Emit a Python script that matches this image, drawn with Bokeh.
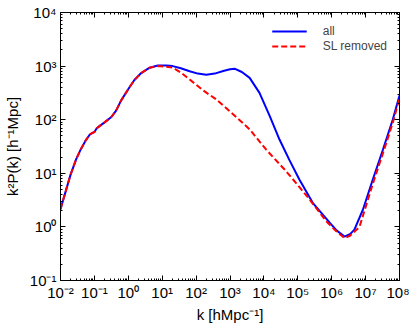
import numpy as np
from bokeh.plotting import figure
from bokeh.models import FixedTicker, LogAxis, Legend, LegendItem
from bokeh.embed import file_html
from bokeh.resources import INLINE

# ---- data (log10 k, log10 k^2 P(k)) ----
logk_all = [-2.00, -1.90, -1.83, -1.70, -1.54, -1.40, -1.25, -1.14, -1.07, -1.00,
            -0.93, -0.85, -0.70, -0.50, -0.36, -0.21, 0.03, 0.18, 0.38, 0.63,
            0.87, 1.12, 1.31, 1.55, 1.81, 2.05, 2.30, 2.55, 2.80,
            3.00, 3.15, 3.35, 3.58, 3.87, 4.17, 4.46, 4.75, 5.05, 5.44,
            5.94, 6.15, 6.38, 6.55, 6.67, 6.92, 7.21, 7.51, 7.80, 8.00]
logp_all = [0.33, 0.55, 0.70, 0.98, 1.26, 1.45, 1.62, 1.72, 1.75, 1.77,
            1.84, 1.88, 1.95, 2.05, 2.17, 2.36, 2.60, 2.74, 2.87, 2.97,
            3.01, 3.01, 3.00, 2.96, 2.905, 2.86, 2.84, 2.86, 2.91,
            2.94, 2.95, 2.89, 2.78, 2.50, 2.07, 1.63, 1.25, 0.88, 0.45,
            0.08, -0.07, -0.18, -0.13, -0.05, 0.32, 0.88, 1.44, 2.00, 2.45]

logk_sl = [-2.00, -1.90, -1.83, -1.70, -1.54, -1.40, -1.25, -1.14, -1.07, -1.00,
           -0.93, -0.85, -0.70, -0.50, -0.36, -0.21, 0.03, 0.18, 0.38, 0.63,
           0.87, 1.12, 1.31, 1.55, 1.81, 2.20, 2.59, 2.99, 3.58,
           4.07, 4.61, 5.00, 5.35, 5.84, 6.10, 6.38, 6.55, 6.82, 7.21,
           7.51, 7.80, 8.00]
logp_sl = [0.33, 0.55, 0.70, 0.98, 1.26, 1.45, 1.62, 1.72, 1.75, 1.77,
           1.84, 1.88, 1.95, 2.05, 2.17, 2.36, 2.60, 2.74, 2.87, 2.97,
           3.00, 2.99, 2.97, 2.88, 2.75, 2.55, 2.38, 2.16, 1.82,
           1.44, 1.07, 0.78, 0.51, 0.106, -0.06, -0.21, -0.16, 0.00, 0.80,
           1.37, 1.94, 2.40]

x_tick_exps = [-2, -1, 0, 1, 2, 3, 4, 5, 6, 7, 8]
y_tick_exps = [-1, 0, 1, 2, 3, 4]
sup = {"-": "⁻", "0": "⁰", "1": "¹", "2": "²", "3": "³", "4": "⁴",
       "5": "⁵", "6": "⁶", "7": "⁷", "8": "⁸", "9": "⁹"}

def lab(e):
    return "10" + "".join(sup[c] for c in str(e))

k_all = 10.0 ** np.array(logk_all)
p_all = 10.0 ** np.array(logp_all)
k_sl = 10.0 ** np.array(logk_sl)
p_sl = 10.0 ** np.array(logp_sl)

FONT = "Liberation Sans"

p = figure(x_axis_type="log", y_axis_type="log",
           x_range=(1e-2, 1e8), y_range=(1e-1, 1e4),
           frame_width=339, frame_height=268,
           min_border_left=57, min_border_right=10, min_border_top=12, min_border_bottom=10,
           output_backend="svg", toolbar_location=None,
           background_fill_color="white", border_fill_color="white")
p.grid.visible = False
p.outline_line_color = "black"
p.outline_line_width = 1

x_major = [10.0 ** e for e in x_tick_exps]
y_major = [10.0 ** e for e in y_tick_exps]
x_minor = [m * 10.0 ** e for e in x_tick_exps[:-1] for m in range(2, 10)]
y_minor = [m * 10.0 ** e for e in y_tick_exps[:-1] for m in range(2, 10)]

def style(ax, major, minor, labels):
    ax.ticker = FixedTicker(ticks=major, minor_ticks=minor)
    ax.major_tick_in = 5
    ax.major_tick_out = 0
    ax.minor_tick_in = 2
    ax.minor_tick_out = 0
    ax.axis_line_color = "black"
    ax.major_tick_line_color = "black"
    ax.minor_tick_line_color = "black"
    ax.major_label_text_font = FONT
    ax.major_label_text_font_size = "15px"
    ax.major_label_text_color = "black"
    ax.major_label_standoff = 3
    ax.axis_label_text_font = FONT
    ax.axis_label_text_font_size = "15px"
    ax.axis_label_text_font_style = "normal"
    ax.axis_label_text_color = "black"
    ax.axis_label_standoff = 2
    ax.major_label_overrides = labels

style(p.xaxis[0], x_major, x_minor, {v: lab(e) for v, e in zip(x_major, x_tick_exps)})
style(p.yaxis[0], y_major, y_minor, {v: lab(e) for v, e in zip(y_major, y_tick_exps)})
p.yaxis[0].major_label_standoff = 4
p.yaxis[0].axis_label_standoff = 6
p.xaxis[0].axis_label = "k [hMpc⁻¹]"
p.yaxis[0].axis_label = "k²P(k) [h⁻¹Mpc]"

top = LogAxis()
right = LogAxis()
style(top, x_major, x_minor, {v: "" for v in x_major})
style(right, y_major, y_minor, {v: "" for v in y_major})
top.major_label_standoff = 0
right.major_label_standoff = 0
p.add_layout(top, "above")
p.add_layout(right, "right")

r1 = p.line(k_all, p_all, line_color="#0000ff", line_width=2)
r2 = p.line(k_sl, p_sl, line_color="#ff0000", line_width=2, line_dash="6 3")

legend = Legend(items=[LegendItem(label="all", renderers=[r1]),
                       LegendItem(label="SL removed", renderers=[r2])],
                location="top_right", border_line_color=None,
                background_fill_alpha=0, glyph_width=35, glyph_height=14,
                label_standoff=16, label_text_font=FONT, label_text_font_size="12px",
                label_height=14, spacing=1, padding=10, margin=12)
p.add_layout(legend)

open("out.html", "w").write(file_html(p, INLINE))
